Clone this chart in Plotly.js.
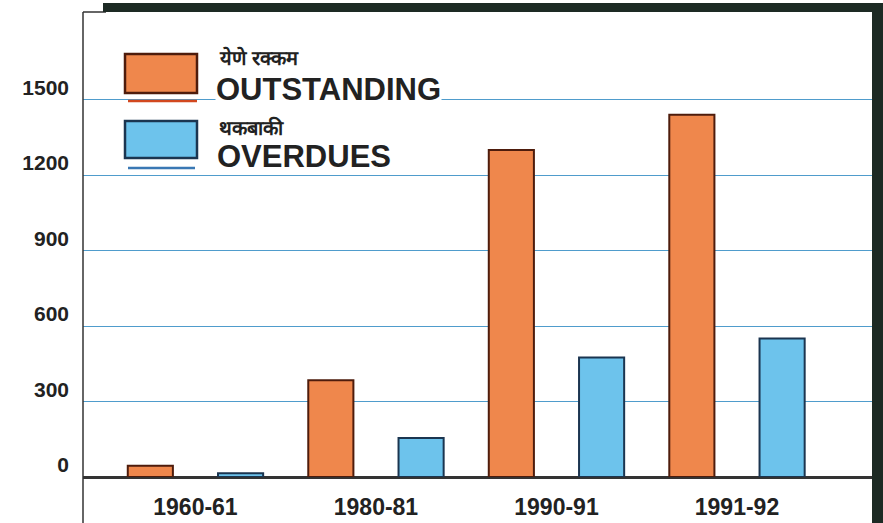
<!DOCTYPE html>
<html>
<head>
<meta charset="utf-8">
<script src="https://cdn.plot.ly/plotly-3.0.1.min.js"></script>
<style>html,body{margin:0;padding:0;background:#fff;}#chart{width:883px;height:523px;}</style>
</head>
<body>
<div id="chart"></div>
<script>
const categories = ['1960-61', '1980-81', '1990-91', '1991-92'];
const outstanding = [45, 385, 1300, 1440];
const overdues = [15, 155, 475, 550];
const seriesNamesEn = ['OUTSTANDING', 'OVERDUES'];
const seriesNamesMr = ['येणे रक्कम', 'थकबाकी'];
const yTicks = [0, 300, 600, 900, 1200, 1500];

const W = 883, H = 523;
const mL = 83, mR = 11, mT = 12, mB = 46;
const pw = W - mL - mR, ph = H - mT - mB;
const px = x => (x - mL) / pw;          // page px -> paper x
const py = y => (H - mB - y) / ph;      // page px -> paper y

const orangeFill = '#ef874c', orangeLine = '#4e1c0c';
const blueFill = '#6dc3ec', blueLine = '#1b3550';
const dark = '#1d2a24';
const txt = '#222222';
const font = 'Liberation Sans, Arial, Helvetica, sans-serif';

const traces = [
  {type: 'bar', x: categories, y: outstanding, name: seriesNamesEn[0],
   marker: {color: orangeFill, line: {color: orangeLine, width: 2}}},
  {type: 'bar', x: categories, y: overdues, name: seriesNamesEn[1],
   marker: {color: blueFill, line: {color: blueLine, width: 2}}}
];

const shapes = [
  {type: 'line', xref: 'paper', yref: 'paper', x0: 0, x1: 0, y0: py(523), y1: 1, line: {color: '#333', width: 1.5}},
  {type: 'line', xref: 'paper', yref: 'paper', x0: 0, x1: px(106), y0: 1, y1: 1, line: {color: '#333', width: 1.5}},
  {type: 'rect', xref: 'paper', yref: 'paper', x0: px(103), x1: px(883), y0: 1, y1: py(3), fillcolor: dark, line: {width: 0}},
  {type: 'rect', xref: 'paper', yref: 'paper', x0: px(872), x1: px(883), y0: py(523), y1: py(3), fillcolor: dark, line: {width: 0}},
  {type: 'rect', xref: 'paper', yref: 'paper', x0: px(125), x1: px(197), y0: py(93), y1: py(54), fillcolor: orangeFill, line: {color: orangeLine, width: 2.5}},
  {type: 'line', xref: 'paper', yref: 'paper', x0: px(128), x1: px(197), y0: py(101), y1: py(101), line: {color: '#d2481f', width: 2.5}},
  {type: 'rect', xref: 'paper', yref: 'paper', x0: px(125), x1: px(197), y0: py(158), y1: py(121), fillcolor: blueFill, line: {color: blueLine, width: 2.5}},
  {type: 'line', xref: 'paper', yref: 'paper', x0: px(128), x1: px(195), y0: py(168), y1: py(168), line: {color: '#3a78b4', width: 2.5}}
];

const annotations = [
  {xref: 'paper', yref: 'paper', x: px(217), y: py(58), xanchor: 'left', yanchor: 'middle', showarrow: false,
   text: '<b>' + seriesNamesMr[0] + '</b>', font: {size: 20, color: txt, family: font}},
  {xref: 'paper', yref: 'paper', x: px(215), y: py(89), xanchor: 'left', yanchor: 'middle', showarrow: false,
   text: '<b>' + seriesNamesEn[0] + '</b>', bgcolor: '#ffffff', borderpad: 0, font: {size: 31, color: txt, family: font}},
  {xref: 'paper', yref: 'paper', x: px(217), y: py(127), xanchor: 'left', yanchor: 'middle', showarrow: false,
   text: '<b>' + seriesNamesMr[1] + '</b>', font: {size: 20, color: txt, family: font}},
  {xref: 'paper', yref: 'paper', x: px(215), y: py(157), xanchor: 'left', yanchor: 'middle', showarrow: false,
   text: '<b>' + seriesNamesEn[1] + '</b>', font: {size: 31, color: txt, family: font}}
];

const layout = {
  width: W, height: H,
  margin: {l: mL, r: mR, t: mT, b: mB, pad: 0},
  paper_bgcolor: '#ffffff', plot_bgcolor: '#ffffff',
  showlegend: false,
  barmode: 'group', bargap: 0, bargroupgap: 0.5,
  font: {family: font, color: txt},
  xaxis: {
    type: 'category', range: [-0.623, 3.748], fixedrange: true,
    showgrid: false, showline: true, linecolor: '#333', linewidth: 1.5,
    ticks: '', ticklabelstandoff: 9,
    tickfont: {size: 23, color: txt, family: font, weight: 'bold'}
  },
  yaxis: {
    range: [0, ph * 1500 / (476.7 - 99.3)], fixedrange: true,
    tickvals: yTicks, ticktext: yTicks.map(String),
    showgrid: true, gridcolor: '#4f9ccc', gridwidth: 1,
    zeroline: true, zerolinecolor: '#333', zerolinewidth: 1.5,
    showline: false, ticks: '', ticklabelstandoff: 13, ticklabelshift: -12,
    tickfont: {size: 21, color: txt, family: font, weight: 'bold'}
  },
  shapes: shapes,
  annotations: annotations
};

Plotly.newPlot('chart', traces, layout, {displayModeBar: false, staticPlot: true});
</script>
</body>
</html>
